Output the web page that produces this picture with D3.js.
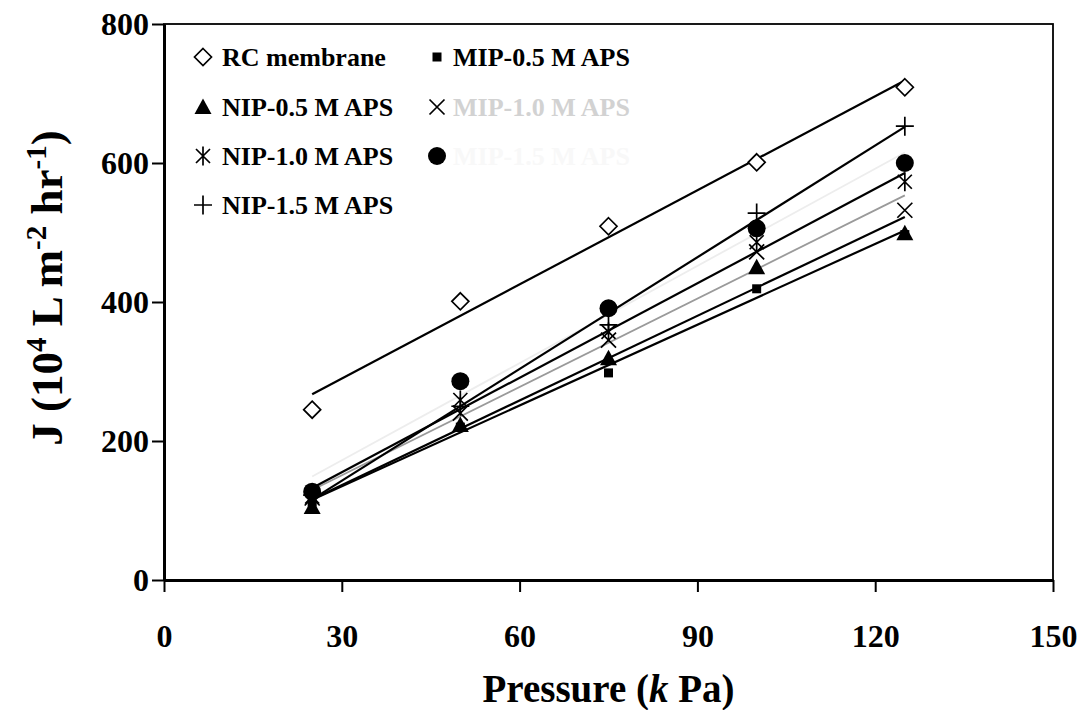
<!DOCTYPE html>
<html>
<head>
<meta charset="utf-8">
<script src="https://cdn.jsdelivr.net/npm/d3@7"></script>
<style>
	body { margin: 0; background: #fff; }
	svg text { font-family: "Liberation Serif", "Times New Roman", serif; font-weight: bold; }
</style>
</head>
<body>
<svg id="chart" width="1082" height="710"></svg>
<script>
// data (pressure in kPa, flux J)
const pressure = [25, 50, 75, 100, 125];
const rcMembrane = [245, 401, 509, 601, 709];
const mip05 = [112, 220, 298, 419, 497];
const nip05 = [105, 223, 319, 450, 499];
const mip10 = [118, 240, 345, 472, 532];
const nip10 = [120, 259, 357, 486, 573];
const mip15 = [127, 286, 391, 506, 600];
const nip15 = [122, 250, 367, 528, 653];

const seriesNames = ["RC membrane", "MIP-0.5 M APS", "NIP-0.5 M APS", "MIP-1.0 M APS",
                     "NIP-1.0 M APS", "MIP-1.5 M APS", "NIP-1.5 M APS"];
const seriesValues = [rcMembrane, mip05, nip05, mip10, nip10, mip15, nip15];

const xTicks = [0, 30, 60, 90, 120, 150];
const yTicks = [0, 200, 400, 600, 800];

// look of each series
const styles = {
	"RC membrane":   {marker: "diamond",  line: "#000",    label: "#000"},
	"MIP-0.5 M APS": {marker: "square",   line: "#000",    label: "#000"},
	"NIP-0.5 M APS": {marker: "triangle", line: "#000",    label: "#000"},
	"MIP-1.0 M APS": {marker: "cross",    line: "#9a9a9a", label: "#d2d2d2"},
	"NIP-1.0 M APS": {marker: "star",     line: "#000",    label: "#000"},
	"MIP-1.5 M APS": {marker: "circle",   line: "#ededed", label: "#f8f8f8"},
	"NIP-1.5 M APS": {marker: "plus",     line: "#000",    label: "#000"}
};

const svg = d3.select("#chart");
const xScale = d3.scaleLinear().domain([0, 150]).range([164, 1053]);
const yScale = d3.scaleLinear().domain([0, 800]).range([580, 24]);

function linearFit(xs, ys) {
	let mx = d3.mean(xs), my = d3.mean(ys);
	let num = 0, den = 0;
	for (let i = 0; i < xs.length; i++) {
		num += (xs[i] - mx) * (ys[i] - my);
		den += (xs[i] - mx) * (xs[i] - mx);
	}
	let slope = num / den;
	return x => my + slope * (x - mx);
}

function drawMarker(g, type) {
	if (type == "diamond") {
		g.append("path").attr("d", "M0,-8.5L8.5,0L0,8.5L-8.5,0Z")
		 .attr("fill", "#fff").attr("stroke", "#000").attr("stroke-width", 1.7);
	} else if (type == "square") {
		g.append("rect").attr("x", -4.5).attr("y", -4.5).attr("width", 9).attr("height", 9).attr("fill", "#000");
	} else if (type == "triangle") {
		g.append("path").attr("d", "M0,-8.5L8.5,7L-8.5,7Z").attr("fill", "#000");
	} else if (type == "circle") {
		g.append("circle").attr("r", 9).attr("fill", "#000");
	} else {
		let d = {
			cross: "M-7.5,-7.5L7.5,7.5M-7.5,7.5L7.5,-7.5",
			star: "M-7,-7L7,7M-7,7L7,-7M0,-9.5L0,9.5",
			plus: "M-9,0L9,0M0,-9.5L0,9.5"
		}[type];
		g.append("path").attr("d", d).attr("fill", "none").attr("stroke", "#000").attr("stroke-width", 1.7);
	}
}

// frame
svg.append("rect")
   .attr("x", xScale(0)).attr("y", yScale(800))
   .attr("width", xScale(150) - xScale(0)).attr("height", yScale(0) - yScale(800))
   .attr("fill", "none").attr("stroke", "#000").attr("stroke-width", 1.8);

// axes
let xAxis = svg.append("g")
	.attr("transform", `translate(0,${yScale(0)})`)
	.call(d3.axisBottom(xScale).tickValues(xTicks).tickSize(12).tickSizeOuter(0));
xAxis.selectAll("text").attr("dy", null).attr("y", 67).style("font-size", "32px").attr("fill", "#000");

let yAxis = svg.append("g")
	.attr("transform", `translate(${xScale(0)},0)`)
	.call(d3.axisLeft(yScale).tickValues(yTicks).tickSize(12).tickSizeOuter(0));
yAxis.selectAll("text").attr("x", -15).style("font-size", "32px").attr("fill", "#000");

svg.selectAll(".domain").attr("stroke", "#000").attr("stroke-width", 3);
svg.selectAll(".tick line").attr("stroke", "#000").attr("stroke-width", 2);

// axis titles
let xTitle = svg.append("text")
	.attr("x", (xScale(0) + xScale(150)) / 2).attr("y", 702)
	.attr("text-anchor", "middle").style("font-size", "39px");
xTitle.append("tspan").text("Pressure (");
xTitle.append("tspan").style("font-style", "italic").text("k");
xTitle.append("tspan").text(" Pa)");

let yTitle = svg.append("text")
	.attr("transform", `translate(62,${(yScale(0) + yScale(800)) / 2 - 14}) rotate(-90)`)
	.attr("text-anchor", "middle").style("font-size", "45px");
[["J (10", false], ["4", true], [" L m", false], ["-2", true], [" hr", false], ["-1", true], [")", false]]
	.forEach(([t, sup], i, arr) => {
		let prevSup = i > 0 && arr[i - 1][1];
		yTitle.append("tspan")
			  .attr("dy", sup ? -16 : (prevSup ? 16 : 0))
			  .style("font-size", sup ? "29px" : "45px")
			  .text(t);
	});

// trend lines
const line = d3.line().x(d => xScale(d[0])).y(d => yScale(d[1]));
seriesNames.forEach((name, i) => {
	let fit = linearFit(pressure, seriesValues[i]);
	let x0 = d3.min(pressure), x1 = d3.max(pressure);
	svg.append("path")
	   .attr("d", line([[x0, fit(x0)], [x1, fit(x1)]]))
	   .attr("fill", "none")
	   .attr("stroke", styles[name].line)
	   .attr("stroke-width", styles[name].line == "#000" ? 2.2 : 1.8);
});

// markers
seriesNames.forEach((name, i) => {
	pressure.forEach((p, j) => {
		let g = svg.append("g").attr("transform", `translate(${xScale(p)},${yScale(seriesValues[i][j])})`);
		drawMarker(g, styles[name].marker);
	});
});

// legend, two columns filled row by row
const legendCols = [[203, 222], [437, 453]];
const legendRows = [57, 107, 156, 205];
let legend = svg.append("g").attr("class", "legend");
seriesNames.forEach((name, i) => {
	let col = legendCols[i % 2], row = legendRows[Math.floor(i / 2)];
	let g = legend.append("g").attr("transform", `translate(${col[0]},${row})`);
	drawMarker(g, styles[name].marker);
	legend.append("text")
		  .attr("x", col[1]).attr("y", row + 9)
		  .style("font-size", "26px")
		  .attr("fill", styles[name].label)
		  .text(name);
});
</script>
</body>
</html>
